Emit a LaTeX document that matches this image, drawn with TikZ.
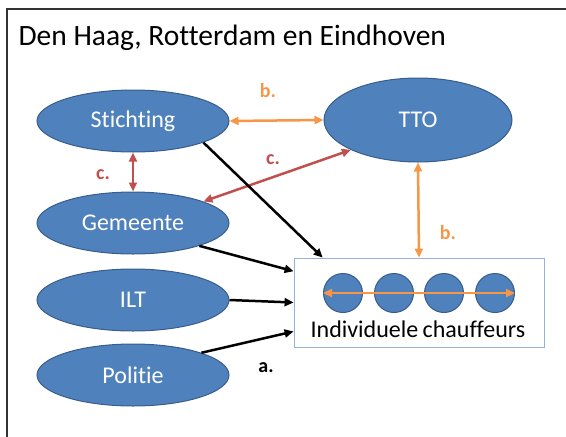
\documentclass[tikz,border=0pt]{standalone}
\usepackage{fontspec}
\setmainfont{Carlito}[Ligatures=CommonOff]
\usetikzlibrary{shapes.geometric,positioning,arrows.meta}
\definecolor{partyblue}{HTML}{4F81BD}
\definecolor{partyedge}{HTML}{385D8A}
\definecolor{linkorange}{HTML}{F79646}
\definecolor{linkred}{HTML}{C0504D}
\definecolor{boxedge}{HTML}{95B3D7}
\tikzset{party/.style={ellipse,draw=partyedge,line width=1pt,fill=partyblue,text=white,
  minimum width=192pt,minimum height=62pt,inner sep=0pt,font=\fontsize{24}{28}\selectfont}}
\tikzset{driver/.style={circle,draw=partyedge,line width=1pt,fill=partyblue,minimum size=39pt,inner sep=0pt}}
\tikzset{link/.style={line width=2.5pt,{Triangle[length=9pt,width=8pt]}-{Triangle[length=9pt,width=8pt]}}}
\tikzset{duty/.style={line width=2.5pt,-{Triangle[length=9pt,width=8pt]}}}
\tikzset{tag/.style={font=\bfseries\fontsize{20}{24}\selectfont}}

\begin{document}
\begin{tikzpicture}[x=1pt,y=1pt,node distance=1pt,on grid]
  \useasboundingbox (0,0) rectangle (566,-437);
  \clip (0,0) rectangle (566,-437);
  \draw[line width=1.3pt,black!80] (7,-9) rectangle (620,-480);
  \node[anchor=base west,font=\fontsize{29.5}{34}\selectfont] (title) at (15,-45) {Den Haag, Rotterdam en Eindhoven};
  % parties
  \node[party] (stichting) at (133,-121) {Stichting};
  \node[party] (gemeente) [below=102pt of stichting] {Gemeente};
  \node[party] (ilt) [below=77pt of gemeente] {ILT};
  \node[party] (politie) [below=75pt of ilt] {Politie};
  \node[party,minimum width=188pt,minimum height=84pt] (tto) at (418,-120) {TTO};
  % drivers
  \node[draw=boxedge,line width=0.8pt,minimum width=250pt,minimum height=89pt] (box) at (419,-302.5) {};
  \foreach \i/\x in {1/343,2/394,3/444,4/495}
    \node[driver] (d\i) at (\x,-293) {};
  \node[font=\fontsize{24}{28}\selectfont] (drivers) at (418,-329) {Individuele\hspace{-1pt} chauffeurs};
  \draw[link,linkorange] (d1.west) -- (d4.east);
  % relations
  \draw[link,linkorange] (stichting.east) -- (tto.west);
  \draw[link,linkorange] (tto.south) -- (box.north);
  \draw[link,linkred] (stichting.south) -- (gemeente.north);
  \draw[link,linkred] (tto.204) -- (gemeente.17);
  \draw[duty] (stichting.-17) -- (box.155);
  \draw[duty] (gemeente.-19) -- (box.166);
  \draw[duty] (ilt.east) -- (box.west);
  \draw[duty] (politie.18) -- (box.193);
  % labels
  \node[tag,text=linkorange] (b1) at (268,-91) {b.};
  \node[tag,text=linkorange] (b2) at (448,-233) {b.};
  \node[tag,text=linkred] (c1) at (103,-175) {c.};
  \node[tag,text=linkred] (c2) at (273,-160) {c.};
  \node[tag] (a) at (266,-368) {a.};
\end{tikzpicture}
\end{document}
